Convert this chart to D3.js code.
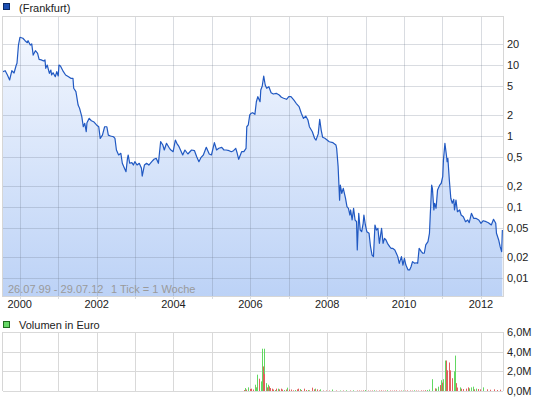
<!DOCTYPE html>
<html><head><meta charset="utf-8">
<script src="https://cdn.jsdelivr.net/npm/d3@7"></script>
<style>body{margin:0;background:#fff}svg{display:block;font-family:"Liberation Sans",Arial,sans-serif}</style>
</head><body><svg id="c" width="545" height="401"></svg>
<script>
const seriesName = "(Frankfurt)";
const volumeName = "Volumen in Euro";
const startDate = "1999-07-26";
const endDate = "2012-07-29";
const rangeNote = "26.07.99 - 29.07.12";
const tickNote = "1 Tick = 1 Woche";
// weeks since start date (1 tick = 1 week)
const priceWeeks = [0,3,6,9,12,15,18,19,21,23,27,30,33,34,37,39,41,44,47,49,52,55,57,58,60,63,65,66,68,71,73,75,76,78,82,85,89,92,95,96,99,102,104,107,109,111,113,114,117,120,123,127,130,132,135,138,141,143,146,150,152,154,157,160,162,164,167,169,170,172,175,177,179,182,185,188,189,192,195,198,202,205,208,211,214,217,219,222,226,228,231,234,236,239,244,247,251,256,260,263,266,269,272,276,280,283,287,290,293,297,300,303,307,310,313,316,318,320,324,327,330,331,333,335,337,339,342,344,346,349,350,352,354,356,358,361,364,367,371,375,378,381,385,388,391,395,398,402,405,408,411,414,416,420,423,425,428,430,432,434,437,440,443,448,452,453,455,457,458,460,462,465,467,469,471,472,474,476,478,480,481,483,485,487,489,490,492,494,497,499,501,503,505,507,509,511,514,516,518,520,522,525,527,529,532,534,536,538,541,543,545,547,550,552,554,556,559,561,563,565,568,570,572,574,577,579,580,582,583,585,586,588,590,593,595,597,598,600,602,603,604,606,608,610,612,613,615,617,620,622,625,628,631,633,636,639,642,646,649,652,656,659,663,666,669,670,673,675,677,678];
const priceValues = [8.05,8.31,7.23,6.15,8.31,7.72,10,10.6,19.1,24.6,23.8,22.0,20.6,22.0,19.1,19.8,13.8,15.9,14.6,12.0,11.8,11.4,11.8,8.99,10,7.64,8.50,7.23,7.79,6.84,8.05,7.00,10,9.68,8.05,7.23,6.84,6.50,6.50,4.70,4.21,2.73,2.45,1.87,1.35,1.51,1.15,1.54,1.77,1.64,1.59,1.43,1.35,0.928,1.03,1.35,1.35,1.03,1.00,0.977,0.928,0.635,0.540,0.571,0.413,0.370,0.314,0.485,0.540,0.413,0.421,0.390,0.435,0.390,0.413,0.351,0.273,0.390,0.413,0.390,0.435,0.470,0.485,0.413,0.831,0.747,0.635,0.789,0.671,0.635,0.601,0.878,0.789,0.707,0.540,0.635,0.558,0.635,0.621,0.511,0.435,0.501,0.540,0.693,0.558,0.540,0.805,0.635,0.671,0.693,0.635,0.635,0.621,0.601,0.621,0.671,0.571,0.470,0.601,0.601,0.671,1.35,1.43,1.98,2.09,2.13,2.02,3.04,3.58,3.04,4.44,5.06,7.00,5.23,4.70,4.95,4.07,3.90,3.99,3.78,3.51,3.40,3.29,3.58,3.58,3.21,2.89,2.59,2.09,1.77,1.91,1.68,1.35,1.15,0.928,0.878,1.07,1.72,1.21,0.959,0.928,0.878,0.831,0.805,0.747,0.671,0.370,0.125,0.204,0.156,0.183,0.133,0.101,0.0959,0.0771,0.0908,0.0656,0.0959,0.0656,0.0621,0.0248,0.0815,0.0474,0.0449,0.0589,0.0771,0.0558,0.0449,0.0426,0.0276,0.0211,0.0200,0.0558,0.0474,0.0501,0.0308,0.0501,0.0308,0.0362,0.0343,0.0308,0.0276,0.0262,0.0262,0.0248,0.0223,0.0200,0.0161,0.0200,0.0152,0.0189,0.0152,0.0130,0.0130,0.0144,0.0170,0.0161,0.0164,0.0161,0.0262,0.0235,0.0223,0.0223,0.0292,0.0325,0.0426,0.0730,0.204,0.183,0.0908,0.113,0.0959,0.174,0.204,0.216,0.267,0.459,0.789,0.540,0.435,0.485,0.240,0.133,0.113,0.128,0.0908,0.125,0.0859,0.0908,0.0771,0.0730,0.0621,0.0656,0.0601,0.0815,0.0693,0.0693,0.0656,0.0589,0.0641,0.0621,0.0601,0.0558,0.0671,0.0589,0.0426,0.0343,0.0276,0.0235,0.0474];
const priceTicks = [20,10,5,2,1,0.5,0.2,0.1,0.05,0.02,0.01];
const yearGrid = [2000,2001,2002,2003,2004,2005,2006,2007,2008,2009,2010,2011,2012];
const yearLabels = [2000,2002,2004,2006,2008,2010,2012];
// volume (million EUR) per week; volUp: 1 = rising week (green), 0 = falling (red)
const volWeeks = [327,329,330,332,333,335,337,339,342,343,344,345,347,348,350,352,353,354,355,357,358,360,361,363,365,367,369,371,373,375,377,379,381,384,386,388,391,394,396,399,401,403,405,408,411,414,416,419,422,423,426,429,431,434,439,443,447,452,457,461,466,471,475,480,
483,486,489,492,495,498,501,504,507,510,513,516,519,522,525,528,531,534,537,540,543,546,549,552,555,558,561,564,567,570,573,576,579,
582,586,588,591,593,594,596,598,600,602,603,605,606,607,609,610,612,613,614,615,617,620,622,625,628,631,633,635,638,640,642,645,647,652,657,661,666,671,675];
const volValues = [0.1,0.3,0.15,0.37,0.15,0.2,0.24,0.15,0.64,0.37,0.3,1.66,0.8,1.25,0.98,4.3,2.5,4.3,1.73,0.8,0.37,0.64,0.47,0.3,0.24,0.15,0.1,0.24,0.24,0.17,0.24,0.15,0.1,0.15,0.34,0.15,0.15,0.07,0.1,0.17,0.24,0.2,0.1,0.24,0.1,0.1,0.07,0.34,0.17,0.24,0.17,0.07,0.17,0.05,0.05,0.05,0.15,0.05,0.05,0.05,0.07,0.05,0.07,0.05,
0.05,0.04,0.06,0.1,0.05,0.04,0.05,0.07,0.04,0.05,0.06,0.04,0.05,0.08,0.05,0.04,0.05,0.06,0.04,0.05,0.05,0.04,0.06,0.05,0.04,0.07,0.05,0.04,0.06,0.05,0.08,0.1,0.15,
1.2,0.27,0.24,0.44,0.6,1.1,0.85,1.2,3.1,3.1,2.1,2.9,2.7,2.1,1.3,0.6,0.95,2.0,3.6,0.8,0.35,0.37,0.24,0.2,0.24,0.37,0.27,0.37,0.44,0.17,0.24,0.2,0.17,0.37,0.17,0.13,0.17,0.1,0.13];
const volUp = [0,1,0,1,1,0,0,0,1,0,1,1,0,0,1,1,0,1,0,1,0,1,0,0,0,0,1,0,1,0,0,0,1,0,1,0,0,0,1,0,0,1,0,0,0,1,0,0,0,1,0,0,1,0,0,0,1,0,1,0,1,0,1,0,
0,0,0,1,0,0,0,1,0,0,0,0,0,1,0,0,0,0,0,0,1,0,0,0,0,1,0,0,0,0,0,1,1,
1,0,1,1,0,1,0,1,1,0,0,0,0,0,0,0,0,1,1,0,0,1,0,0,0,0,1,1,1,0,1,0,0,1,0,0,0,0,0];
const volTicks = [0,2,4,6];

const svg = d3.select("#c");
const L = 3, R = 503, T = 16, B = 296, VT = 332, VB = 391;
const parse = d3.utcParse("%Y-%m-%d");
const t0 = parse(startDate), t1 = parse(endDate);
const wk = w => d3.utcDay.offset(t0, w * 7);
const x = d3.scaleUtc().domain([t0, t1]).range([L, R]);
const y = d3.scaleLog().domain([Math.pow(10, -160/71), Math.pow(10, 120/71)]).range([B, T]);
const yv = d3.scaleLinear().domain([0, 6]).range([VB, VT]);
const de = d3.formatLocale({decimal: ",", thousands: ".", grouping: [3], currency: ["", "€"]});
const fmtP = de.format("~g"), fmtV = de.format(".1f");
const data = priceWeeks.map((w, i) => ({d: wk(w), v: priceValues[i]}));
const yearDate = yr => Date.UTC(yr, 0, 1);
const px = v => Math.round(v) + 0.5;

const defs = svg.append("defs");
const g = defs.append("linearGradient").attr("id", "fill").attr("gradientUnits", "userSpaceOnUse")
  .attr("x1", 0).attr("x2", 0).attr("y1", T).attr("y2", B);
g.append("stop").attr("offset", 0).attr("stop-color", "#f6f9ff");
g.append("stop").attr("offset", 1).attr("stop-color", "#bcd2f6");
defs.append("clipPath").attr("id", "clip").append("rect").attr("x", L).attr("y", T).attr("width", R - L).attr("height", B - T);

// legends
svg.append("rect").attr("x", 3.5).attr("y", 3.5).attr("width", 6).attr("height", 6).attr("fill", "#1c4fb3").attr("stroke", "#0b2a66");
svg.append("text").attr("x", 19).attr("y", 11.5).attr("font-size", 11).attr("fill", "#222").text(seriesName);
svg.append("rect").attr("x", 3.5).attr("y", 321.5).attr("width", 6).attr("height", 6).attr("fill", "#66d866").attr("stroke", "#1f6b1f");
svg.append("text").attr("x", 19).attr("y", 328.5).attr("font-size", 11).attr("fill", "#222").text(volumeName);

// main area + grid
const main = svg.append("g");
main.append("path").datum(data).attr("clip-path", "url(#clip)").attr("fill", "url(#fill)")
  .attr("d", d3.area().x(d => x(d.d)).y0(B).y1(d => y(d.v)));
const grid = main.append("g").attr("stroke", "rgba(110,120,140,0.26)").attr("stroke-width", 1).attr("fill", "none");
priceTicks.forEach(v => grid.append("line").attr("x1", L).attr("x2", R).attr("y1", px(y(v))).attr("y2", px(y(v))));
yearGrid.forEach(yr => grid.append("line").attr("x1", px(x(yearDate(yr)))).attr("x2", px(x(yearDate(yr)))).attr("y1", T).attr("y2", B + 3));
main.append("rect").attr("x", L - 0.5).attr("y", T + 0.5).attr("width", R - L + 1).attr("height", B - T)
  .attr("fill", "none").attr("stroke", "#d6d6d6");
main.append("path").datum(data).attr("clip-path", "url(#clip)").attr("fill", "none").attr("stroke", "#2159c2")
  .attr("stroke-width", 1.2).attr("stroke-linejoin", "round")
  .attr("d", d3.line().x(d => x(d.d)).y(d => y(d.v)));

main.append("text").attr("x", 8).attr("y", 293).attr("font-size", 11).attr("fill", "#9a9a9a").text(rangeNote);
main.append("text").attr("x", 111).attr("y", 293).attr("font-size", 11).attr("fill", "#9a9a9a").text(tickNote);

// y labels
svg.append("g").selectAll("text").data(priceTicks).join("text")
  .attr("x", 507).attr("y", d => y(d)).attr("dy", "0.36em").attr("font-size", 11).attr("fill", "#222").text(d => fmtP(d));
// year labels
svg.append("g").selectAll("text").data(yearLabels).join("text")
  .attr("x", d => x(yearDate(d))).attr("y", 308).attr("text-anchor", "middle").attr("font-size", 11).attr("fill", "#222").text(d => d);

// volume panel
const vg = svg.append("g");
volTicks.forEach(v => vg.append("line").attr("x1", L).attr("x2", R).attr("y1", px(yv(v))).attr("y2", px(yv(v))).attr("stroke", "#d9d9d9"));
yearGrid.forEach(yr => vg.append("line").attr("x1", px(x(yearDate(yr)))).attr("x2", px(x(yearDate(yr)))).attr("y1", VT).attr("y2", VB).attr("stroke", "#d9d9d9"));
vg.append("line").attr("x1", L - 0.5).attr("x2", L - 0.5).attr("y1", VT).attr("y2", VB).attr("stroke", "#d6d6d6");
vg.append("line").attr("x1", R + 0.5).attr("x2", R + 0.5).attr("y1", VT).attr("y2", VB).attr("stroke", "#d6d6d6");
vg.selectAll("rect.bar").data(volWeeks).join("rect").attr("class", "bar")
  .attr("x", w => Math.round(x(wk(w)))).attr("width", 1)
  .attr("y", (w, i) => yv(volValues[i])).attr("height", (w, i) => VB - yv(volValues[i]))
  .attr("fill", (w, i) => volUp[i] ? "#62d862" : "#e0605e");
svg.append("g").selectAll("text").data(volTicks).join("text")
  .attr("x", 507).attr("y", d => yv(d)).attr("dy", "0.36em").attr("font-size", 11).attr("fill", "#222").text(d => fmtV(d) + "M");
</script></body></html>
